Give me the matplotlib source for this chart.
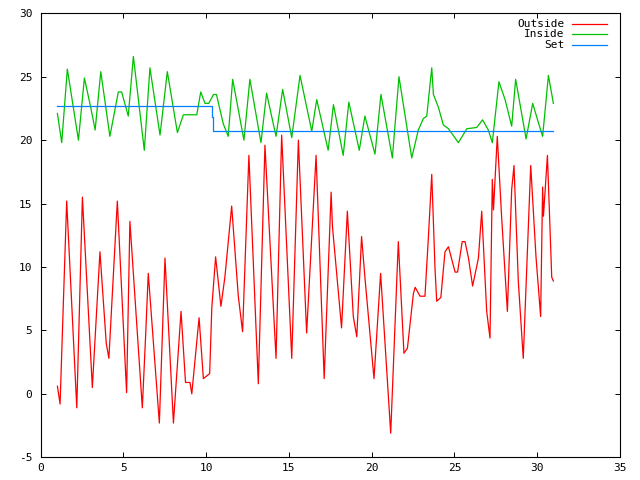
import matplotlib
matplotlib.use("Agg")
import matplotlib.pyplot as plt
from matplotlib.lines import Line2D

plt.rcParams["font.family"] = ["DejaVu Sans Mono"]
plt.rcParams["axes.unicode_minus"] = False

# Outside temperature (day, degC)
out_t = [1.01, 1.17, 1.57, 2.18, 2.52, 3.12, 3.58, 3.96, 4.12, 4.63, 5.19, 5.39,
         6.14, 6.33, 6.50, 7.17, 7.51, 8.02, 8.48, 8.75, 9.02, 9.13, 9.57, 9.83,
         10.21, 10.34, 10.57, 10.89, 11.13, 11.54, 11.94, 12.20, 12.58, 13.15,
         13.55, 14.22, 14.56, 15.17, 15.57, 16.07, 16.64, 17.13, 17.55, 17.63,
         18.18, 18.53, 18.89, 19.10, 19.39, 19.59, 20.14, 20.54, 21.15, 21.61,
         21.95, 22.16, 22.52, 22.63, 22.92, 23.22, 23.43, 23.63, 23.83, 23.93,
         24.18, 24.43, 24.64, 25.04, 25.19, 25.47, 25.64, 25.85, 26.10, 26.45,
         26.65, 26.95, 27.15, 27.29, 27.36, 27.59, 27.85, 28.20, 28.46, 28.60,
         28.86, 29.16, 29.61, 29.93, 30.21, 30.33, 30.38, 30.62, 30.88, 30.98]
out_v = [0.6, -0.8, 15.2, -1.1, 15.5, 0.5, 11.2, 4.0, 2.8, 15.2, 0.1, 13.6,
         -1.1, 4.3, 9.5, -2.3, 10.7, -2.3, 6.5, 0.9, 0.9, 0.0, 6.0, 1.2,
         1.6, 6.8, 10.8, 6.9, 9.2, 14.8, 7.7, 4.9, 18.8, 0.8,
         19.6, 2.8, 20.4, 2.8, 20.0, 4.8, 18.8, 1.2, 15.9, 13.2,
         5.2, 14.4, 6.1, 4.5, 12.4, 9.2, 1.2, 9.5, -3.1, 12.0,
         3.2, 3.6, 7.9, 8.4, 7.7, 7.7, 12.4, 17.3, 9.8, 7.3,
         7.6, 11.2, 11.6, 9.6, 9.6, 12.0, 12.0, 10.7, 8.5, 10.7,
         14.4, 6.5, 4.4, 16.9, 14.5, 20.3, 14.0, 6.5, 16.1, 18.0,
         8.9, 2.8, 18.0, 10.8, 6.1, 16.3, 14.0, 18.8, 9.2, 8.9]

# Inside temperature
in_t = [1.01, 1.27, 1.61, 2.28, 2.64, 3.02, 3.29, 3.63, 4.18, 4.69, 4.89, 5.29,
        5.60, 6.26, 6.60, 7.21, 7.65, 8.26, 8.62, 9.43, 9.67, 9.93, 10.16, 10.44,
        10.62, 11.03, 11.33, 11.60, 12.28, 12.64, 13.31, 13.65, 14.22, 14.62,
        15.17, 15.67, 16.38, 16.68, 17.37, 17.69, 18.28, 18.62, 19.25, 19.59,
        20.20, 20.56, 21.25, 21.65, 22.42, 22.82, 23.12, 23.33, 23.63, 23.73,
        24.03, 24.33, 24.64, 25.24, 25.75, 26.35, 26.70, 27.05, 27.29, 27.69,
        28.06, 28.46, 28.70, 29.33, 29.73, 30.07, 30.33, 30.68, 30.98]
in_v = [22.1, 19.8, 25.6, 20.0, 24.9, 22.6, 20.8, 25.4, 20.3, 23.8, 23.8, 21.9,
        26.6, 19.2, 25.7, 20.4, 25.4, 20.6, 22.0, 22.0, 23.8, 22.9, 22.9, 23.6,
        23.6, 21.3, 20.3, 24.8, 20.0, 24.8, 19.8, 23.7, 20.3, 24.0,
        20.2, 25.1, 20.7, 23.2, 19.2, 22.8, 18.8, 23.0, 19.2, 21.9,
        18.9, 23.6, 18.6, 25.0, 18.6, 20.8, 21.7, 21.9, 25.7, 23.6,
        22.6, 21.2, 20.9, 19.8, 20.9, 21.0, 21.6, 20.8, 19.8, 24.6,
        23.2, 21.1, 24.8, 20.1, 22.9, 21.4, 20.3, 25.1, 22.9]

# Set point
set_t = [1.01, 10.35, 10.43, 30.98]
set_v = [22.7, 21.8, 20.7, 20.7]

labels = ["Outside", "Inside", "Set"]
colors = ["#ff0000", "#00c000", "#0080ff"]

fig = plt.figure(figsize=(6.4, 4.8), dpi=100)
ax = fig.add_axes([0.0636, 0.0473, 0.905, 0.925])

ax.plot(out_t, out_v, color=colors[0], lw=0.9)
ax.plot(in_t, in_v, color=colors[1], lw=0.9)
ax.plot(set_t, set_v, color=colors[2], lw=0.9, drawstyle="steps-post")

ax.set_xlim(0, 35)
ax.set_ylim(-5, 30)
ax.set_xticks(range(0, 36, 5))
ax.set_yticks(range(-5, 31, 5))
ax.tick_params(direction="in", length=3.6, width=0.7, top=True, right=True,
               labelsize=8, colors="black")
ax.tick_params(axis="x", pad=4)
ax.tick_params(axis="y", pad=6)
for s in ax.spines.values():
    s.set_linewidth(0.8)

# gnuplot-like key: right-aligned text, sample line after it
rows = [0.976, 0.953, 0.929]
for lab, c, y in zip(labels, colors, rows):
    ax.text(0.905, y, lab, transform=ax.transAxes, ha="right", va="center",
            fontsize=8)
    ax.add_line(Line2D([0.918, 0.978], [y, y], transform=ax.transAxes,
                       color=c, lw=0.9))

fig.savefig("out.png", dpi=100)
